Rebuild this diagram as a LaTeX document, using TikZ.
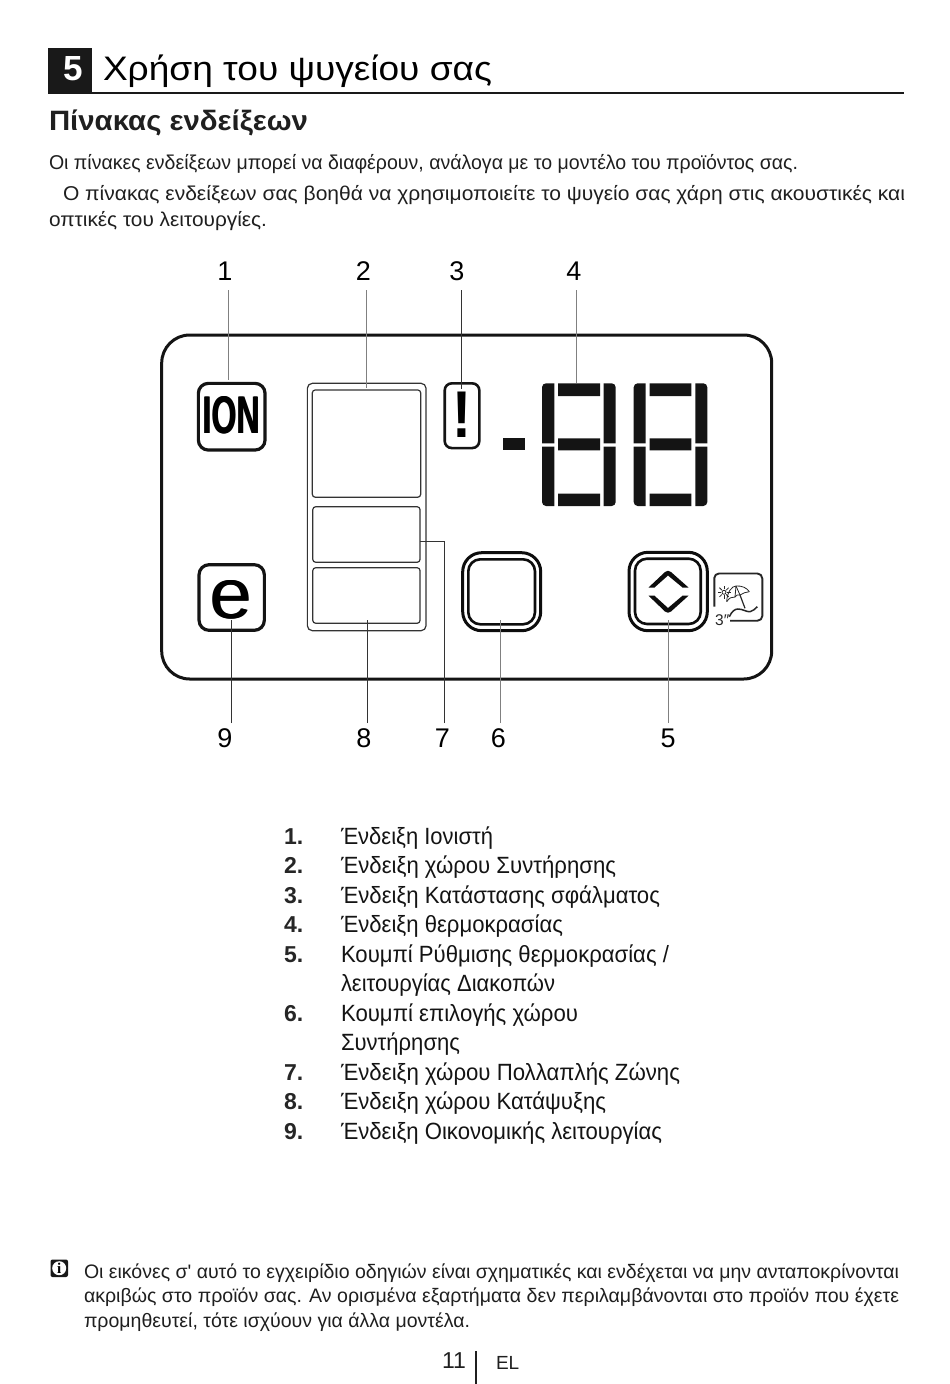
\documentclass[tikz,border=0pt]{standalone}
\usepackage{fontspec}
\usepackage{graphicx}
\setmainfont{Liberation Sans}[Ligatures=TeXOff]
\newfontfamily\serifi{Liberation Serif}
\newcommand{\fitw}[2]{\resizebox{#1pt}{\height}{#2}}
\newcommand{\dbl}[2]{\rlap{#2}\kern#1pt\relax #2}
\tikzset{
  x=1pt,y=-1pt,
  txt/.style={anchor=base west,inner sep=0pt,outer sep=0pt},
  body/.style={txt,font=\fontsize{20}{24}\selectfont,text=black!88},
  note/.style={txt,font=\fontsize{19.5}{24}\selectfont,text=black!88},
  item/.style={txt,font=\fontsize{23.5}{30}\selectfont,text=black!92},
  itemnum/.style={txt,font=\fontsize{23}{30}\selectfont\bfseries,text=black!85},
  callout/.style={anchor=center,inner sep=0pt,outer sep=0pt,font=\fontsize{27}{30}\selectfont,text=black},
  leadlight/.style={draw=black!50,line width=0.9pt},
  leaddark/.style={draw=black!80,line width=0.9pt},
  iconbox/.style={draw=black!92,line width=3.2pt,rounded corners=10pt,inner sep=0pt,outer sep=0pt},
  fridgebox/.style={draw=black!80,line width=1.2pt,rounded corners=3pt,inner sep=0pt,outer sep=0pt},
  ring/.style={draw=black!95,line width=3pt},
}
\begin{document}
\begin{tikzpicture}
\useasboundingbox (0,0) rectangle (950,1384);
\fill[white] (0,0) rectangle (950,1384);
% header
\fill[black!90] (48,48) rectangle (92,93);
\node[anchor=base,inner sep=0pt,text=white,font=\bfseries] (secnum) at (73,80) {\resizebox{19.5pt}{24pt}{5}};
\draw[line width=2pt,black!90] (48,93) -- (904,93);
\node[txt,font=\fontsize{34}{40}\selectfont,text=black] (title) at (103,80) {\fitw{389}{Χρήση του ψυγείου σας}};
\node[txt,font=\fontsize{28}{32}\selectfont\bfseries,text=black!88] (subtitle) at (49,130) {\fitw{259}{Πίνακας ενδείξεων}};
\node[body] (p1) at (49,169) {\fitw{749}{Οι πίνακες ενδείξεων μπορεί να διαφέρουν, ανάλογα με το μοντέλο του προϊόντος σας.}};
\node[body] (p2) at (63,200) {\fitw{842}{Ο πίνακας ενδείξεων σας βοηθά να χρησιμοποιείτε το ψυγείο σας χάρη στις ακουστικές και}};
\node[body] (p3) at (49,226) {\fitw{218}{οπτικές του λειτουργίες.}};
% panel
\draw[line width=3pt,black!92,rounded corners=28pt] (161.7,335) rectangle (771.7,679);
% ION
\node[iconbox,minimum width=66.7pt,minimum height=66.7pt] (ion) at (231.7,416.7) {};
\node[inner sep=0pt,font=\bfseries] (iontext) at (231.5,415) {\resizebox{58pt}{37pt}{\dbl{0.35}{ION}}};
% fridge
\node[fridgebox,minimum width=118.7pt,minimum height=247.4pt,rounded corners=5pt] (fridge) at (366.7,507) {};
\node[fridgebox,minimum width=108.4pt,minimum height=107.3pt] (comp2) at (366.5,443.6) {};
\node[fridgebox,minimum width=107.3pt,minimum height=55.6pt] (comp7) at (366.4,534.5) {};
\node[fridgebox,minimum width=107.3pt,minimum height=55.6pt] (comp8) at (366.4,595.5) {};
% warning
\node[iconbox,line width=2.6pt,rounded corners=7pt,minimum width=34.6pt,minimum height=64.7pt] (warn) at (462,415.7) {};
\node[inner sep=0pt,font=\bfseries] (warntext) at (461.8,414.5) {\resizebox{19pt}{45.5pt}{!}};
% minus
\fill[black!92] (502.7,438.3) rectangle (525.3,450.3);
% digits
\begin{scope}
\clip[rounded corners=4pt] (542,383.3) rectangle (615.7,506);
\fill[black!92] (542,383.3) rectangle (554.3,443.3) (542,446.7) rectangle (554.3,506)
  (558,383.3) rectangle (600,396) (558,438.3) rectangle (600,450.3) (558,493.7) rectangle (600,506)
  (603.7,383.3) rectangle (615.7,443.3) (603.7,446.7) rectangle (615.7,506);
\end{scope}
\begin{scope}
\clip[rounded corners=4pt] (633.7,383.3) rectangle (707.3,506);
\fill[black!92] (633.7,383.3) rectangle (645.7,443.3) (633.7,446.7) rectangle (645.7,506)
  (649.7,383.3) rectangle (691.3,396) (649.7,438.3) rectangle (691.3,450.3) (649.7,493.7) rectangle (691.3,506)
  (695.3,383.3) rectangle (707.3,443.3) (695.3,446.7) rectangle (707.3,506);
\end{scope}
% e
\node[iconbox,minimum width=65.3pt,minimum height=65.6pt] (eco) at (231.7,597.5) {};
\node[inner sep=0pt] (ecotext) at (231.2,599.5) {\resizebox{43pt}{38pt}{\dbl{0.12}{e}}};
% buttons
\draw[ring,rounded corners=19pt] (462.7,552.7) rectangle (540.7,630.7);
\draw[ring,line width=2.6pt,rounded corners=12pt] (468.3,559.3) rectangle (535,624.3);
\draw[ring,rounded corners=19pt] (629,552.3) rectangle (707.3,630.7);
\draw[ring,line width=2.6pt,rounded corners=12pt] (635,558.7) rectangle (700.7,624);
\fill[black!95] (648.5,587.5) -- (665,572) to[out=45,in=135] (671,572) -- (688.5,587.5) -- (682.5,587.5) -- (668,575.5) -- (654.5,587.5) -- cycle;
\fill[black!95] (648.5,595.7) -- (665,611.5) to[out=-45,in=-135] (671,611.5) -- (688.5,595.7) -- (682.5,595.7) -- (668,608) -- (654.5,595.7) -- cycle;
% holiday icon
\draw[line width=1.9pt,black!85,line join=round] (714.3,606.5) -- (714.3,578) to[out=90,in=180] (719,573.5) -- (757.5,573.5) to[out=0,in=90] (762.3,578.5) -- (762.3,616) to[out=-90,in=0] (757.5,620.7) -- (730,620.7);
\node[anchor=base west,inner sep=0pt,font=\fontsize{15.5}{16}\selectfont,text=black!85] (three) at (715,625) {3″};
\begin{scope}[black!85,line width=0.8pt]
\draw (726.7,601.7) .. controls (727,592) and (732,586) .. (736,586) .. controls (742,585.5) and (747,588) .. (749.3,591.7);
\draw (726.7,601.7) .. controls (729,598) and (732,596.5) .. (735,597) .. controls (736,595) and (738,594.5) .. (740,595) .. controls (743,593) and (746,592) .. (749.3,591.7);
\draw (736,586) -- (735,597);
\draw (736,586) -- (740,595);
\draw[line width=1.2pt] (740,595) -- (745,608.3);
\draw[line width=1.5pt] (729.3,616.7) .. controls (732,611) and (735,609) .. (738,609) .. controls (743,609) and (746,612) .. (750,611.7) .. controls (753,611) and (755,609) .. (757.3,606.7);
\draw (724,592.3) circle (2pt);
\foreach \a in {0,45,...,315}{\draw (724,592.3) ++(\a:3pt) -- ++(\a:3.5pt);}
\end{scope}
% callouts
\node[callout] (n1) at (225,271) {1};
\node[callout] (n2) at (363.5,271) {2};
\node[callout] (n3) at (457,271) {3};
\node[callout] (n4) at (574,271) {4};
\node[callout] (n9) at (225,738) {9};
\node[callout] (n8) at (364,738) {8};
\node[callout] (n7) at (442.5,738) {7};
\node[callout] (n6) at (498.5,738) {6};
\node[callout] (n5) at (668,738) {5};
\coordinate (a1) at (228.3,290); \coordinate (b1) at (228.3,380);
\coordinate (a2) at (366.7,290); \coordinate (b2) at (366.7,388);
\coordinate (a3) at (461,290);   \coordinate (b3) at (461,389);
\coordinate (a4) at (576.3,290); \coordinate (b4) at (576.3,383);
\coordinate (a5) at (668.7,723); \coordinate (b5) at (668.7,620);
\coordinate (a6) at (500,723);   \coordinate (b6) at (500,620);
\coordinate (a7) at (444.3,723); \coordinate (c7) at (444.3,541.7);
\coordinate (a8) at (367.3,723); \coordinate (b8) at (367.3,620);
\coordinate (a9) at (231,723);   \coordinate (b9) at (231,620);
\draw[leadlight] (a1) -- (b1);
\draw[leadlight] (a2) -- (b2);
\draw[leaddark] (a3) -- (b3);
\draw[leadlight] (a4) -- (b4);
\draw[leadlight] (a5) -- (b5);
\draw[leadlight] (a6) -- (b6);
\draw[leaddark] (a7) -- (c7) -- (comp7.east |- c7);
\draw[leaddark] (a8) -- (b8);
\draw[leaddark] (a9) -- (b9);
% list
\node[itemnum] (l1) at (284,844) {1.};
\node[itemnum] (l2) at (284,873.5) {2.};
\node[itemnum] (l3) at (284,903) {3.};
\node[itemnum] (l4) at (284,932.5) {4.};
\node[itemnum] (l5) at (284,962) {5.};
\node[itemnum] (l6) at (284,1021) {6.};
\node[itemnum] (l7) at (284,1080) {7.};
\node[itemnum] (l8) at (284,1109.5) {8.};
\node[itemnum] (l9) at (284,1139) {9.};
\node[item] (t1) at (341,844) {\fitw{152}{Ένδειξη Ιονιστή}};
\node[item] (t2) at (341,873.5) {\fitw{275}{Ένδειξη χώρου Συντήρησης}};
\node[item] (t3) at (341,903) {\fitw{319}{Ένδειξη Κατάστασης σφάλματος}};
\node[item] (t4) at (341,932.5) {\fitw{222}{Ένδειξη θερμοκρασίας}};
\node[item] (t5a) at (341,962) {\fitw{328}{Κουμπί Ρύθμισης θερμοκρασίας /}};
\node[item] (t5b) at (341,991.5) {\fitw{214}{λειτουργίας Διακοπών}};
\node[item] (t6a) at (341,1021) {\fitw{237}{Κουμπί επιλογής χώρου}};
\node[item] (t6b) at (341,1050.5) {\fitw{119}{Συντήρησης}};
\node[item] (t7) at (341,1080) {\fitw{339}{Ένδειξη χώρου Πολλαπλής Ζώνης}};
\node[item] (t8) at (341,1109.5) {\fitw{265}{Ένδειξη χώρου Κατάψυξης}};
\node[item] (t9) at (341,1139) {\fitw{321}{Ένδειξη Οικονομικής λειτουργίας}};
% info
\fill[black!90,rounded corners=2pt] (50.5,1259.5) rectangle (68,1277);
\fill[white] (59.2,1268.2) circle (7pt);
\node[anchor=center,inner sep=0pt,font=\serifi\fontsize{15}{16}\selectfont\bfseries] (infoi) at (59.2,1268.2) {i};
\node[note] (f1) at (84,1278) {\fitw{815}{Οι εικόνες σ' αυτό το εγχειρίδιο οδηγιών είναι σχηματικές και ενδέχεται να μην ανταποκρίνονται}};
\node[note] (f2) at (84,1302) {\fitw{815}{ακριβώς στο προϊόν σας. Αν ορισμένα εξαρτήματα δεν περιλαμβάνονται στο προϊόν που έχετε}};
\node[note] (f3) at (84,1327) {\fitw{386}{προμηθευτεί, τότε ισχύουν για άλλα μοντέλα.}};
% footer
\node[txt,font=\fontsize{23}{26}\selectfont,text=black!88] (page) at (442,1368) {11};
\draw[line width=2pt,black!88] (476,1351) -- (476,1384);
\node[txt,font=\fontsize{19}{22}\selectfont,text=black!88] (lang) at (496,1369) {EL};
\end{tikzpicture}
\end{document}
